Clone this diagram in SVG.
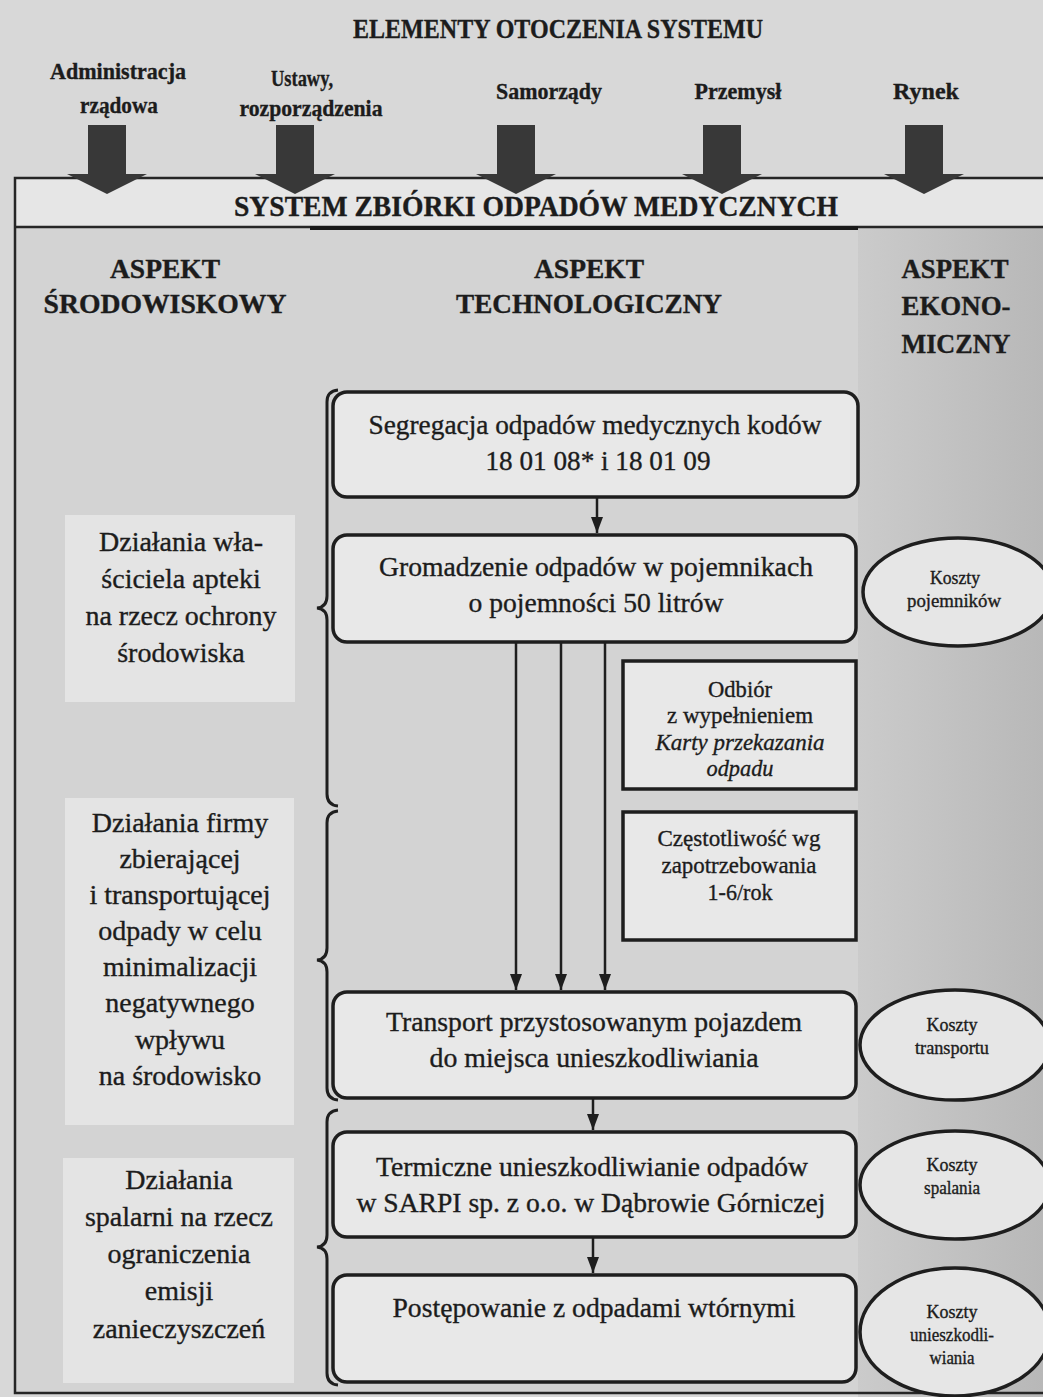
<svg xmlns="http://www.w3.org/2000/svg" width="1043" height="1397" viewBox="0 0 1043 1397">
<defs>
<linearGradient id="strip" x1="0" y1="0" x2="1" y2="0">
<stop offset="0" stop-color="#cbcbcb"/>
<stop offset="1" stop-color="#b8b8b8"/>
</linearGradient>
<marker id="ah" viewBox="0 0 16 12" refX="16" refY="6" markerWidth="16" markerHeight="12" markerUnits="userSpaceOnUse" orient="auto">
<path d="M0,0 L16,6 L0,12 z" fill="#1e1e1e"/>
</marker>
<style>
text{font-family:"Liberation Serif","Times New Roman",serif;fill:#1c1c1c;stroke:#1c1c1c;stroke-width:0.35;text-anchor:middle}
.b{font-weight:bold}
.t{font-size:24px;font-weight:bold}
.h{font-size:27px;font-weight:bold}
.n{font-size:27px}
.p{font-size:28px}
.s{font-size:23px}
.e{font-size:18px}
.i{font-style:italic}
.box{fill:#e8e8e8;stroke:#1e1e1e;stroke-width:3.5}
.panel{fill:#e4e4e4}
.ell{fill:#e6e6e6;stroke:#1e1e1e;stroke-width:3.5}
.blk{fill:#383838}
.ln{stroke:#1e1e1e;stroke-width:2.5;fill:none}
.brace{stroke:#1e1e1e;stroke-width:3;fill:none}
.frame{stroke:#262626;stroke-width:2.5;fill:none}
</style>
</defs>

<!-- background -->
<rect x="0" y="0" width="1043" height="1397" fill="#d8d8d8"/>
<rect x="15" y="227" width="1028" height="1166" fill="#d3d3d3"/>
<rect x="858" y="227" width="185" height="1170" fill="url(#strip)"/>
<rect x="15" y="178" width="1028" height="49" fill="#e6e6e6"/>

<g id="title">
<text class="b" x="558" y="38" font-size="27" textLength="410" lengthAdjust="spacingAndGlyphs">ELEMENTY OTOCZENIA SYSTEMU</text>
</g>

<!-- frame -->
<g id="frame">
<path class="frame" d="M1043,178 L15,178 L15,1393 L1043,1393"/>
<path class="frame" d="M15,227 L1043,227"/>
<path d="M310,228 L858,228" stroke="#1a1a1a" stroke-width="4"/>
</g>

<g id="env-administracja">
<text class="t" x="118" y="79" textLength="136" lengthAdjust="spacingAndGlyphs">Administracja</text>
<text class="t" x="119" y="113" textLength="78" lengthAdjust="spacingAndGlyphs">rządowa</text>
<polygon class="blk" points="88,125 126,125 126,174 147,174 107,194 67,174 88,174"/>
</g>
<g id="env-ustawy">
<text class="t" x="302" y="86" textLength="62" lengthAdjust="spacingAndGlyphs">Ustawy,</text>
<text class="t" x="311" y="116" textLength="143" lengthAdjust="spacingAndGlyphs">rozporządzenia</text>
<polygon class="blk" points="276,125 314,125 314,174 335,174 295,194 255,174 276,174"/>
</g>
<g id="env-samorzady">
<text class="t" x="549" y="99" textLength="106" lengthAdjust="spacingAndGlyphs">Samorządy</text>
<polygon class="blk" points="497,125 535,125 535,174 556,174 516,194 476,174 497,174"/>
</g>
<g id="env-przemysl">
<text class="t" x="738" y="99" textLength="87" lengthAdjust="spacingAndGlyphs">Przemysł</text>
<polygon class="blk" points="703,125 741,125 741,174 762,174 722,194 682,174 703,174"/>
</g>
<g id="env-rynek">
<text class="t" x="926" y="99" textLength="66" lengthAdjust="spacingAndGlyphs">Rynek</text>
<polygon class="blk" points="905,125 943,125 943,174 964,174 924,194 884,174 905,174"/>
</g>

<g id="system">
<text class="b" x="536" y="216" font-size="29" textLength="604" lengthAdjust="spacingAndGlyphs">SYSTEM ZBIÓRKI ODPADÓW MEDYCZNYCH</text>
</g>

<g id="aspekt-srodowiskowy">
<text class="h" x="165" y="278" textLength="110" lengthAdjust="spacingAndGlyphs">ASPEKT</text>
<text class="h" x="165" y="313" textLength="243" lengthAdjust="spacingAndGlyphs">ŚRODOWISKOWY</text>
</g>
<g id="aspekt-technologiczny">
<text class="h" x="589" y="278" textLength="110" lengthAdjust="spacingAndGlyphs">ASPEKT</text>
<text class="h" x="589" y="313" textLength="266" lengthAdjust="spacingAndGlyphs">TECHNOLOGICZNY</text>
</g>
<g id="aspekt-ekonomiczny">
<text class="h" x="955" y="278" textLength="107" lengthAdjust="spacingAndGlyphs">ASPEKT</text>
<text class="h" x="956" y="315" textLength="109" lengthAdjust="spacingAndGlyphs">EKONO-</text>
<text class="h" x="956" y="353" textLength="109" lengthAdjust="spacingAndGlyphs">MICZNY</text>
</g>

<!-- left panels -->
<g id="panel-apteka">
<rect class="panel" x="65" y="515" width="230" height="187"/>
<text class="p" x="181" y="551">Działania wła-</text>
<text class="p" x="181" y="588">ściciela apteki</text>
<text class="p" x="181" y="625">na rzecz ochrony</text>
<text class="p" x="181" y="662">środowiska</text>
</g>
<g id="panel-firma">
<rect class="panel" x="65" y="798" width="229" height="327"/>
<text class="p" x="180" y="832">Działania firmy</text>
<text class="p" x="180" y="868">zbierającej</text>
<text class="p" x="180" y="904">i transportującej</text>
<text class="p" x="180" y="940">odpady w celu</text>
<text class="p" x="180" y="976">minimalizacji</text>
<text class="p" x="180" y="1012">negatywnego</text>
<text class="p" x="180" y="1049">wpływu</text>
<text class="p" x="180" y="1085">na środowisko</text>
</g>
<g id="panel-spalarnia">
<rect class="panel" x="63" y="1158" width="231" height="225"/>
<text class="p" x="179" y="1189">Działania</text>
<text class="p" x="179" y="1226">spalarni na rzecz</text>
<text class="p" x="179" y="1263">ograniczenia</text>
<text class="p" x="179" y="1300">emisji</text>
<text class="p" x="179" y="1338">zanieczyszczeń</text>
</g>

<!-- braces -->
<g id="braces">
<path class="brace" d="M338,390 Q327,391 327,402 L327,596 Q327,607 317,608 Q327,609 327,620 L327,794 Q327,805 338,806"/>
<path class="brace" d="M338,811 Q327,812 327,823 L327,948 Q327,959 317,960 Q327,961 327,972 L327,1088 Q327,1099 338,1100"/>
<path class="brace" d="M338,1110 Q327,1111 327,1122 L327,1235 Q327,1246 317,1247 Q327,1248 327,1259 L327,1373 Q327,1384 338,1385"/>
</g>

<!-- technological nodes -->
<g id="segregacja">
<rect class="box" x="333" y="392" width="525" height="105" rx="14"/>
<text class="n" x="595" y="434" textLength="453" lengthAdjust="spacingAndGlyphs">Segregacja odpadów medycznych kodów</text>
<text class="n" x="598" y="470" textLength="225" lengthAdjust="spacingAndGlyphs">18 01 08* i 18 01 09</text>
</g>
<g id="gromadzenie">
<rect class="box" x="333" y="535" width="523" height="107" rx="14"/>
<text class="n" x="596" y="576" textLength="434" lengthAdjust="spacingAndGlyphs">Gromadzenie odpadów w pojemnikach</text>
<text class="n" x="596" y="612" textLength="255" lengthAdjust="spacingAndGlyphs">o pojemności 50 litrów</text>
</g>
<g id="odbior">
<rect class="box" x="623" y="661" width="233" height="128"/>
<text class="s" x="740" y="697" textLength="64" lengthAdjust="spacingAndGlyphs">Odbiór</text>
<text class="s" x="740" y="723" textLength="146" lengthAdjust="spacingAndGlyphs">z wypełnieniem</text>
<text class="s i" x="740" y="750" textLength="169" lengthAdjust="spacingAndGlyphs">Karty przekazania</text>
<text class="s i" x="740" y="776" textLength="67" lengthAdjust="spacingAndGlyphs">odpadu</text>
</g>
<g id="czestotliwosc">
<rect class="box" x="623" y="812" width="233" height="128"/>
<text class="s" x="739" y="846" textLength="163" lengthAdjust="spacingAndGlyphs">Częstotliwość wg</text>
<text class="s" x="739" y="873" textLength="155" lengthAdjust="spacingAndGlyphs">zapotrzebowania</text>
<text class="s" x="740" y="900" textLength="65" lengthAdjust="spacingAndGlyphs">1-6/rok</text>
</g>
<g id="transport">
<rect class="box" x="333" y="992" width="523" height="106" rx="14"/>
<text class="n" x="594" y="1031" textLength="416" lengthAdjust="spacingAndGlyphs">Transport przystosowanym pojazdem</text>
<text class="n" x="594" y="1067" textLength="329" lengthAdjust="spacingAndGlyphs">do miejsca unieszkodliwiania</text>
</g>
<g id="termiczne">
<rect class="box" x="333" y="1132" width="523" height="105" rx="14"/>
<text class="n" x="592" y="1176" textLength="432" lengthAdjust="spacingAndGlyphs">Termiczne unieszkodliwianie odpadów</text>
<text class="n" x="591" y="1212" textLength="469" lengthAdjust="spacingAndGlyphs">w SARPI sp. z o.o. w Dąbrowie Górniczej</text>
</g>
<g id="postepowanie">
<rect class="box" x="333" y="1275" width="523" height="107" rx="14"/>
<text class="n" x="594" y="1317" textLength="403" lengthAdjust="spacingAndGlyphs">Postępowanie z odpadami wtórnymi</text>
</g>

<!-- economic nodes -->
<g id="koszty-pojemnikow">
<ellipse class="ell" cx="958" cy="592" rx="95" ry="54"/>
<text class="e" x="955" y="584" textLength="50" lengthAdjust="spacingAndGlyphs">Koszty</text>
<text class="e" x="954" y="607" textLength="94" lengthAdjust="spacingAndGlyphs">pojemników</text>
</g>
<g id="koszty-transportu">
<ellipse class="ell" cx="955" cy="1045" rx="95" ry="55"/>
<text class="e" x="952" y="1031" textLength="51" lengthAdjust="spacingAndGlyphs">Koszty</text>
<text class="e" x="952" y="1054" textLength="74" lengthAdjust="spacingAndGlyphs">transportu</text>
</g>
<g id="koszty-spalania">
<ellipse class="ell" cx="955" cy="1185" rx="95" ry="54"/>
<text class="e" x="952" y="1171" textLength="51" lengthAdjust="spacingAndGlyphs">Koszty</text>
<text class="e" x="952" y="1194" textLength="56" lengthAdjust="spacingAndGlyphs">spalania</text>
</g>
<g id="koszty-unieszkodliwiania">
<ellipse class="ell" cx="955" cy="1332" rx="95" ry="64"/>
<text class="e" x="952" y="1318" textLength="51" lengthAdjust="spacingAndGlyphs">Koszty</text>
<text class="e" x="952" y="1341" textLength="84" lengthAdjust="spacingAndGlyphs">unieszkodli-</text>
<text class="e" x="952" y="1364" textLength="45" lengthAdjust="spacingAndGlyphs">wiania</text>
</g>

<!-- connectors -->
<g id="connectors">
<line class="ln" x1="597" y1="497" x2="597" y2="533" marker-end="url(#ah)"/>
<line class="ln" x1="516" y1="642" x2="516" y2="990" marker-end="url(#ah)"/>
<line class="ln" x1="561" y1="642" x2="561" y2="990" marker-end="url(#ah)"/>
<line class="ln" x1="605" y1="642" x2="605" y2="990" marker-end="url(#ah)"/>
<line class="ln" x1="593" y1="1098" x2="593" y2="1130" marker-end="url(#ah)"/>
<line class="ln" x1="593" y1="1237" x2="593" y2="1273" marker-end="url(#ah)"/>
</g>
</svg>
